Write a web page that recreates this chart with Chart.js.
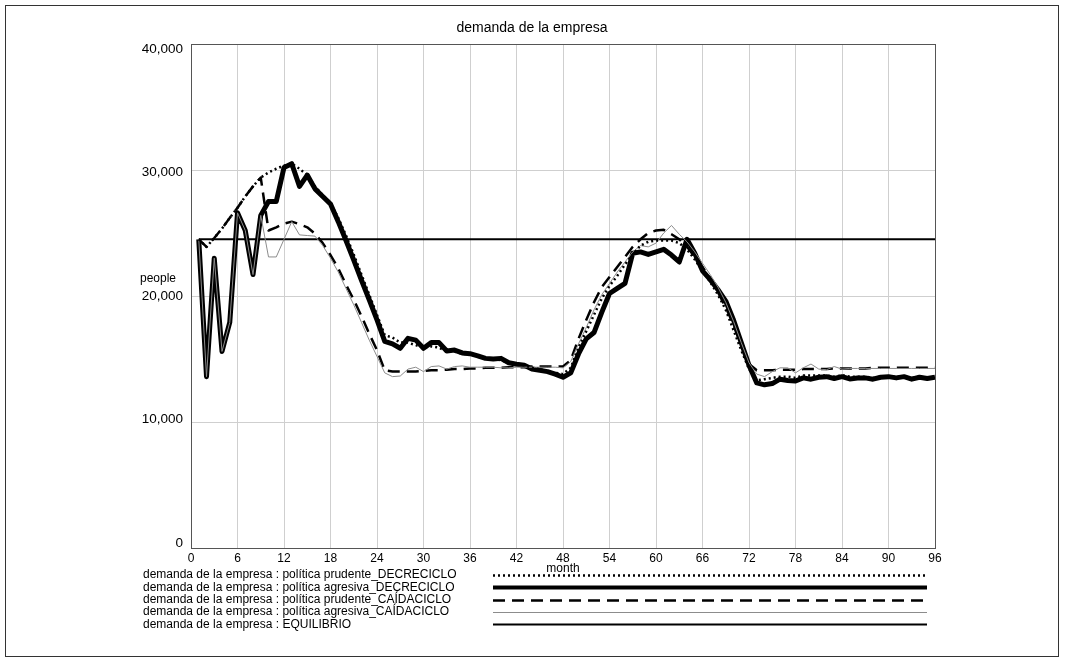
<!DOCTYPE html>
<html>
<head>
<meta charset="utf-8">
<script src="https://cdn.jsdelivr.net/npm/chart.js@4.4.1/dist/chart.umd.min.js"></script>
<style>
  html, body { margin: 0; padding: 0; background: #fff; }
  #wrap { width: 1065px; height: 661px; position: relative; }
</style>
</head>
<body>
<div id="wrap"><canvas id="c" width="1065" height="661"></canvas></div>
<script>
// demanda de la empresa, people per month (months 1..96)
const prudenteDecreciclo = [
  24500, 23900, 24600, 25350, 26200, 27000, 27900, 28700, 29400, 29800,
  30100, 30350, 30500, 30100, 29600, 28700, 28000, 27400, 26200, 24800,
  23300, 21700, 20100, 18500, 16900, 16700, 16300, 16300, 16100, 15900,
  16000, 15900, 15600, 15600, 15400, 15400, 15200, 15000, 15000, 14900,
  14700, 14600, 14500, 14300, 14200, 14000, 13900, 13800, 14300, 15900,
  17200, 18500, 19800, 20800, 21600, 22500, 23300, 24000, 24300, 24400,
  24400, 24400, 24200, 23700, 22900, 22000, 21100, 20100, 18900, 17300,
  15700, 14200, 13300, 13400, 13500, 13600, 13600, 13500, 13700, 13700,
  13700, 13700, 13600, 13700, 13600, 13600, 13600, 13500, 13600, 13600,
  13600, 13600, 13500, 13600, 13500, 13600
];
const agresivaDecreciclo = [
  24500, 13600, 23000, 15600, 17900, 26600, 25200, 21700, 26400, 27500,
  27500, 30200, 30500, 28700, 29600, 28500, 27900, 27300, 25900, 24400,
  22850, 21250, 19700, 18100, 16400, 16200, 15850, 16640, 16500, 15850,
  16300, 16300, 15630, 15710, 15480, 15420, 15250, 15050, 15000, 15050,
  14700, 14580, 14500, 14200, 14100, 14000, 13800, 13550, 13900, 15400,
  16600, 17100, 18700, 20200, 20600, 21000, 23400, 23500, 23300, 23500,
  23700, 23250, 22700, 24500, 23400, 22000, 21300, 20500, 19600, 18100,
  16300, 14500, 13100, 12950, 13050, 13400, 13300, 13250, 13500, 13400,
  13550, 13600, 13450, 13600, 13420, 13500, 13500, 13400, 13550, 13600,
  13500, 13600, 13400, 13550, 13450, 13550
];
const prudenteCaidaciclo = [
  24500, 23900, 24600, 25350, 26200, 27000, 27900, 28700, 29400, 25200,
  25450, 25750, 25900, 25700, 25450, 24950, 24200, 23250, 22200, 20900,
  19700, 18400, 17000, 15700, 14100, 14000, 14000, 14000, 14000, 14050,
  14100, 14100, 14150, 14200, 14200, 14250, 14250, 14300, 14300, 14300,
  14350, 14350, 14350, 14400, 14400, 14400, 14400, 14400, 14900, 16600,
  18100, 19500, 20700, 21500, 22300, 23100, 23900, 24500, 25000, 25200,
  25250, 24900, 24500, 23900, 23100, 22300, 21400, 20300, 19100, 17700,
  16100, 14600, 14100, 14100, 14100, 14150, 14150, 14150, 14200, 14200,
  14200, 14200, 14250, 14250, 14250, 14250, 14250, 14300, 14300, 14300,
  14300, 14300, 14300, 14300, 14300, 14300
];
const agresivaCaidaciclo = [
  24500, 13600, 23000, 15600, 17900, 26600, 25200, 21700, 26400, 23100,
  23100, 24500, 25900, 24850, 24800, 24750, 24000, 23000, 21900, 20600,
  19300, 17900, 16500, 15200, 13900, 13600, 13650, 14200, 14350, 14000,
  14400, 14450, 14200, 14400, 14450, 14350, 14350, 14350, 14350, 14300,
  14300, 14350, 14350, 14350, 14350, 14350, 14350, 14300, 14800, 16200,
  17500, 18900, 20100, 21000, 21900, 22700, 23500, 24000, 23900, 24200,
  25000, 25600, 24900, 24300, 23500, 22600, 21700, 20700, 19500, 18000,
  16300, 14700, 13800, 13600, 14000, 14300, 14300, 13900, 14300, 14600,
  14200, 14150, 14400, 14200, 14250, 14250, 14250, 14250, 14250, 14250,
  14250, 14250, 14250, 14250, 14250, 14250
];
const equilibrio = 24500;
const firstMonth = 1;
const lastMonth = 96;

const xTicks = { min: 0, max: 96, step: 6 };
const yTicks = { min: 0, max: 40000, step: 10000 };

const seriesNames = [
  'demanda de la empresa : política prudente_DECRECICLO',
  'demanda de la empresa : política agresiva_DECRECICLO',
  'demanda de la empresa : política prudente_CAÍDACICLO',
  'demanda de la empresa : política agresiva_CAÍDACICLO',
  'demanda de la empresa : EQUILIBRIO'
];

const FONT = '"Liberation Sans", Arial, Helvetica, sans-serif';
Chart.defaults.font.family = FONT;
Chart.defaults.font.size = 12;
Chart.defaults.color = '#000';

function toPoints(values) {
  return values.map((v, i) => ({ x: firstMonth + i, y: v }));
}

const datasets = [
  { label: seriesNames[0], data: toPoints(prudenteDecreciclo),
    borderColor: '#000', borderWidth: 2.5, borderDash: [2, 3], order: 1 },
  { label: seriesNames[1], data: toPoints(agresivaDecreciclo),
    borderColor: '#000', borderWidth: 5, order: 4 },
  { label: seriesNames[2], data: toPoints(prudenteCaidaciclo),
    borderColor: '#000', borderWidth: 2.5, borderDash: [12, 7], order: 3 },
  { label: seriesNames[3], data: toPoints(agresivaCaidaciclo),
    borderColor: '#8c8c8c', borderWidth: 1, order: 2 },
  { label: seriesNames[4],
    data: [{ x: firstMonth, y: equilibrio }, { x: lastMonth, y: equilibrio }],
    borderColor: '#000', borderWidth: 2, order: 5 }
];
datasets.forEach(d => {
  d.pointRadius = 0;
  d.tension = 0;
  d.fill = false;
  d.borderJoinStyle = 'round';
});

// frame, title, y tick labels, y-axis caption and the legend block
const decorations = {
  id: 'decorations',
  beforeDatasetsDraw(chart) {
    const { ctx, chartArea: a } = chart;
    ctx.save();
    ctx.strokeStyle = '#555';
    ctx.lineWidth = 1;
    ctx.strokeRect(Math.round(a.left) + 0.5, Math.round(a.top) + 0.5,
                   Math.round(a.right - a.left), Math.round(a.bottom - a.top));
    ctx.restore();
  },
  afterDraw(chart) {
    const { ctx } = chart;
    const yScale = chart.scales.y;
    ctx.save();
    // outer box
    ctx.strokeStyle = '#333';
    ctx.lineWidth = 1;
    ctx.strokeRect(5.5, 5.5, 1053, 651);

    ctx.fillStyle = '#000';
    ctx.font = '14px ' + FONT;
    ctx.textAlign = 'center';
    ctx.textBaseline = 'middle';
    ctx.fillText('demanda de la empresa', 532, 28);

    // y tick labels, set slightly inside the outer grid lines
    const mid = yScale.getPixelForValue((yTicks.min + yTicks.max) / 2);
    ctx.font = '13.5px ' + FONT;
    ctx.textAlign = 'right';
    yScale.ticks.forEach(t => {
      const p = yScale.getPixelForValue(t.value);
      ctx.fillText(t.value.toLocaleString('en-US'), yScale.right - 8, mid + (p - mid) * 0.98);
    });

    ctx.font = '12px ' + FONT;
    ctx.textAlign = 'left';
    ctx.fillText('people', 140, 279);

    // legend rows
    const rowY0 = 575, rowGap = 12.3, textX = 143, lineX0 = 493, lineX1 = 927;
    chart.data.datasets.forEach((ds, i) => {
      const y = rowY0 + i * rowGap;
      ctx.fillStyle = '#000';
      ctx.fillText(ds.label, textX, y);
      ctx.beginPath();
      ctx.strokeStyle = ds.borderColor;
      ctx.lineWidth = Math.min(ds.borderWidth, 4);
      ctx.setLineDash(ds.borderDash || []);
      ctx.moveTo(lineX0, Math.round(y) + 0.5);
      ctx.lineTo(lineX1, Math.round(y) + 0.5);
      ctx.stroke();
    });
    ctx.restore();
  }
};

new Chart(document.getElementById('c'), {
  type: 'line',
  data: { datasets },
  options: {
    responsive: false,
    animation: false,
    devicePixelRatio: 1,
    layout: { padding: { left: 0, top: 44, right: 130, bottom: 85 } },
    plugins: { legend: { display: false }, tooltip: { enabled: false }, title: { display: false } },
    scales: {
      x: {
        type: 'linear',
        min: xTicks.min, max: xTicks.max,
        ticks: { stepSize: xTicks.step, padding: 3, maxRotation: 0, autoSkip: false },
        grid: { color: '#cfcfcf', lineWidth: 1, drawTicks: false },
        border: { display: true, color: '#555' },
        title: { display: true, text: 'month', padding: { top: 0, bottom: 0 }, font: { size: 12 } },
        afterFit(scale) { scale.height = 28; }
      },
      y: {
        type: 'linear',
        min: yTicks.min, max: yTicks.max,
        ticks: { stepSize: yTicks.step, display: false },
        grid: { color: '#cfcfcf', lineWidth: 1, drawTicks: false },
        border: { display: true, color: '#555' },
        afterFit(scale) { scale.width = 191; }
      }
    }
  },
  plugins: [decorations]
});
</script>
</body>
</html>
